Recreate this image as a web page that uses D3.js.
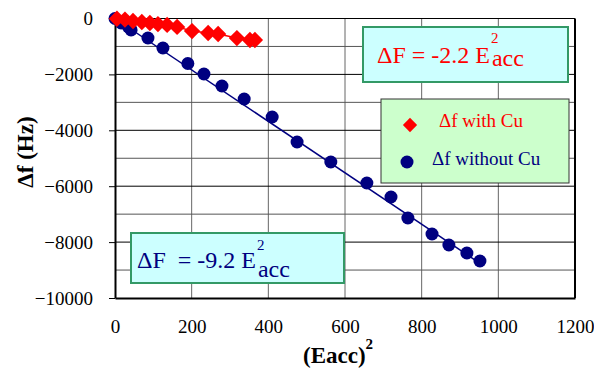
<!DOCTYPE html>
<html>
<head>
<meta charset="utf-8">
<script src="https://cdn.jsdelivr.net/npm/d3@7"></script>
<style>
  body { margin: 0; background: #fff; }
</style>
</head>
<body>
<svg id="chart" width="594" height="368"></svg>
<script>
// Eacc^2 (x) vs frequency shift (Hz)
const withCuX = [5, 26, 47, 70, 91, 112, 136, 162, 201, 243, 269, 318, 352, 365];
const withCuY = [-10, -40, -90, -125, -160, -200, -230, -300, -450, -520, -555, -700, -770, -770];
const withoutCuX = [0, 16, 35, 42, 86, 125, 190, 232, 279, 337, 410, 475, 563, 657, 720, 764, 827, 871, 918, 952];
const withoutCuY = [0, -160, -300, -410, -698, -1055, -1610, -1986, -2415, -2880, -3524, -4419, -5134, -5886, -6386, -7138, -7710, -8104, -8390, -8676];
const xTicks = [0, 200, 400, 600, 800, 1000, 1200];
const yTicks = [-10000, -8000, -6000, -4000, -2000, 0];
const yGrid = [-9000, -8000, -7000, -6000, -5000, -4000, -3000, -2000, -1000];
const fitWithoutCu = -9.2;

const serif = 'Liberation Serif, DejaVu Serif, serif';
const svg = d3.select('#chart').style('font-family', serif);
const red = '#ff0000';
const navy = '#000080';

const x = d3.scaleLinear().domain([0, 1200]).range([115, 575]);
const y = d3.scaleLinear().domain([-10000, 0]).range([298, 18.5]);

// grid
svg.append('g')
  .selectAll('line')
  .data(xTicks.slice(1, -1))
  .enter()
  .append('line')
  .attr('x1', d => x(d)).attr('x2', d => x(d))
  .attr('y1', y(0)).attr('y2', y(-10000))
  .attr('stroke', '#666')
  .attr('stroke-width', 1);

svg.append('g')
  .selectAll('line')
  .data(yGrid)
  .enter()
  .append('line')
  .attr('x1', x(0)).attr('x2', x(1200))
  .attr('y1', d => y(d)).attr('y2', d => y(d))
  .attr('stroke', d => (d % 2000 === 0 ? '#000' : '#555'))
  .attr('stroke-width', 1);

// frame
svg.append('line')
  .attr('x1', x(0)).attr('x2', x(1200))
  .attr('y1', y(0)).attr('y2', y(0))
  .attr('stroke', '#000').attr('stroke-width', 1);
svg.append('line')
  .attr('x1', x(1200)).attr('x2', x(1200))
  .attr('y1', y(0)).attr('y2', y(-10000))
  .attr('stroke', '#000').attr('stroke-width', 2);

// y axis
const yAxis = svg.append('g')
  .attr('transform', 'translate(' + x(0) + ',0)')
  .call(d3.axisLeft(y).tickValues(yTicks).tickSize(6).tickSizeOuter(0).tickPadding(16).tickFormat(d3.format('d')));
yAxis.attr('font-family', null);
yAxis.select('.domain').attr('stroke-width', 2);
yAxis.selectAll('text').attr('font-size', 19).attr('fill', '#000').style('font-family', serif);

// x axis
const xAxis = svg.append('g')
  .attr('transform', 'translate(0,' + y(-10000) + ')')
  .call(d3.axisBottom(x).tickValues(xTicks).tickSize(0).tickPadding(22).tickFormat(d3.format('d')));
xAxis.attr('font-family', null);
xAxis.select('.domain').attr('stroke-width', 2);
xAxis.selectAll('text').attr('font-size', 19).attr('fill', '#000').style('font-family', serif);

// axis titles
const xt = svg.append('text')
  .attr('x', 303).attr('y', 363)
  .attr('font-size', 23).attr('font-weight', 'bold');
xt.append('tspan').text('(Eacc)');
xt.append('tspan').attr('dy', -14).attr('font-size', 15).text('2');

svg.append('text')
  .attr('transform', 'translate(33,152) rotate(-90)')
  .attr('text-anchor', 'middle')
  .attr('font-size', 23).attr('font-weight', 'bold')
  .text('\u0394f (Hz)');

// fit line and connecting line
const line = d3.line().x(d => x(d[0])).y(d => y(d[1]));
svg.append('path')
  .datum([[0, 0], [d3.max(withoutCuX), fitWithoutCu * d3.max(withoutCuX)]])
  .attr('d', line)
  .attr('fill', 'none').attr('stroke', navy).attr('stroke-width', 1.5);
svg.append('path')
  .datum(withCuX.map((d, i) => [d, withCuY[i]]))
  .attr('d', line)
  .attr('fill', 'none').attr('stroke', red).attr('stroke-width', 1.5);

// points
svg.append('g')
  .selectAll('circle')
  .data(withoutCuX.map((d, i) => [d, withoutCuY[i]]))
  .enter()
  .append('circle')
  .attr('cx', d => x(d[0])).attr('cy', d => y(d[1]))
  .attr('r', 6.5)
  .attr('fill', navy);

const diamond = d3.symbol().type(d3.symbolDiamond2).size(170);
svg.append('g')
  .selectAll('path')
  .data(withCuX.map((d, i) => [d, withCuY[i]]))
  .enter()
  .append('path')
  .attr('d', diamond)
  .attr('transform', d => 'translate(' + x(d[0]) + ',' + y(d[1]) + ')')
  .attr('fill', red);

// equation boxes
function eqBox(bx, by, bw, bh, tx, ty, label, color, subDy, supDy) {
  svg.append('rect')
    .attr('x', bx).attr('y', by).attr('width', bw).attr('height', bh)
    .attr('fill', '#ccffff').attr('stroke', '#339966').attr('stroke-width', 2);
  const t = svg.append('text')
    .attr('x', tx).attr('y', ty)
    .attr('font-size', 24).attr('fill', color)
    .style('white-space', 'pre')
    .text(label);
  const w = t.node().getComputedTextLength();
  svg.append('text')
    .attr('x', tx + w + 1).attr('y', ty + supDy)
    .attr('font-size', 15).attr('fill', color).text('2');
  svg.append('text')
    .attr('x', tx + w + 2).attr('y', ty + subDy)
    .attr('font-size', 24).attr('fill', color).text('acc');
}
eqBox(363, 27, 205, 55, 377, 63, '\u0394F = -2.2 E', red, 3, -20);
eqBox(131, 233, 213, 50, 137, 268, '\u0394F  = -9.2 E', navy, 9, -18);

// legend
svg.append('rect')
  .attr('x', 381).attr('y', 99).attr('width', 188).attr('height', 84)
  .attr('fill', '#ccffcc').attr('stroke', '#333').attr('stroke-width', 1);
svg.append('path')
  .attr('d', d3.symbol().type(d3.symbolDiamond2).size(130))
  .attr('transform', 'translate(410,125)')
  .attr('fill', red);
svg.append('text')
  .attr('x', 439).attr('y', 127)
  .attr('font-size', 19).attr('fill', red)
  .text('\u0394f with Cu');
svg.append('circle')
  .attr('cx', 407).attr('cy', 162).attr('r', 6.5)
  .attr('fill', navy);
svg.append('text')
  .attr('x', 432).attr('y', 165)
  .attr('font-size', 19).attr('fill', navy)
  .text('\u0394f without Cu');
</script>
</body>
</html>
